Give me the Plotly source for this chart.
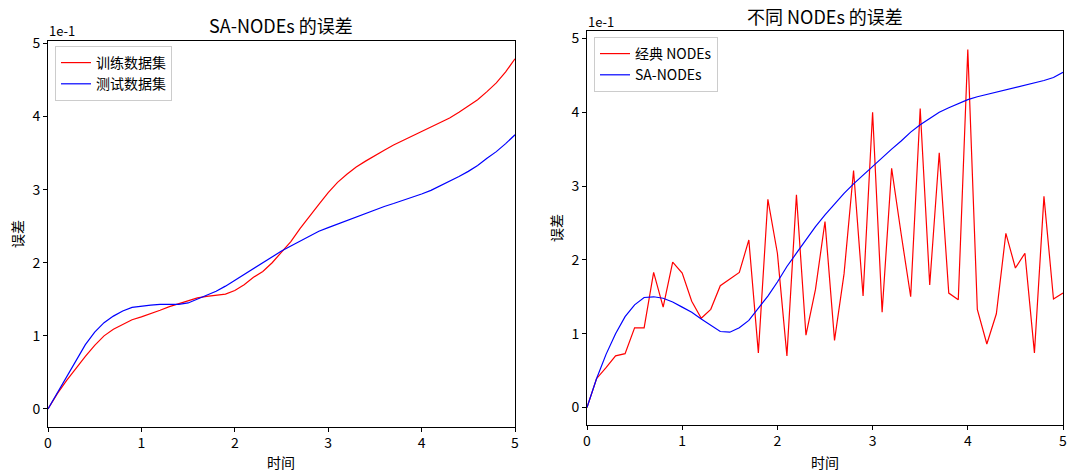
import plotly.graph_objects as go

t = [round(i * 0.1, 1) for i in range(51)]

train_err = [0, 0.21, 0.39, 0.56, 0.72, 0.87, 1.00, 1.09, 1.16, 1.22,
             1.26, 1.30, 1.35, 1.40, 1.44, 1.48, 1.52, 1.54, 1.55, 1.57,
             1.62, 1.70, 1.80, 1.88, 2.00, 2.14, 2.29, 2.47, 2.64, 2.80,
             2.96, 3.10, 3.21, 3.31, 3.39, 3.47, 3.54, 3.61, 3.67, 3.73,
             3.79, 3.85, 3.91, 3.98, 4.06, 4.14, 4.23, 4.34, 4.46, 4.61, 4.79]

test_err = [0, 0.22, 0.44, 0.67, 0.88, 1.05, 1.18, 1.27, 1.34, 1.39,
            1.41, 1.42, 1.43, 1.43, 1.43, 1.45, 1.50, 1.55, 1.61, 1.68,
            1.76, 1.84, 1.93, 2.01, 2.09, 2.16, 2.23, 2.30, 2.37, 2.43,
            2.48, 2.53, 2.58, 2.63, 2.68, 2.72, 2.77, 2.81, 2.85, 2.90,
            2.94, 2.99, 3.05, 3.11, 3.18, 3.25, 3.33, 3.43, 3.52, 3.63, 3.75]

classic_err = [0, 0.39, 0.54, 0.70, 0.73, 1.08, 1.08, 1.83, 1.36, 1.97,
               1.82, 1.44, 1.21, 1.33, 1.65, 1.74, 1.83, 2.27, 0.74, 2.82,
               2.09, 0.70, 2.88, 0.98, 1.60, 2.52, 0.91, 1.81, 3.21, 1.51,
               4.00, 1.29, 3.24, 2.35, 1.50, 4.05, 1.66, 3.45, 1.55, 1.46,
               4.85, 1.33, 0.86, 1.27, 2.36, 1.89, 2.09, 0.74, 2.86, 1.47, 1.55]

sa_err = [0, 0.39, 0.72, 1.00, 1.23, 1.39, 1.49, 1.50, 1.48, 1.43,
          1.36, 1.29, 1.20, 1.11, 1.03, 1.02, 1.08, 1.18, 1.34, 1.51,
          1.70, 1.91, 2.09, 2.27, 2.45, 2.61, 2.76, 2.90, 3.03, 3.15,
          3.27, 3.39, 3.50, 3.61, 3.73, 3.83, 3.92, 4.00, 4.06, 4.12,
          4.17, 4.21, 4.24, 4.28, 4.31, 4.34, 4.37, 4.40, 4.43, 4.47, 4.54]

tick_vals = [0, 1, 2, 3, 4, 5]
tick_text = ["0", "1", "2", "3", "4", "5"]

FONT = "Noto Sans CJK SC"
W, H = 1069, 473

fig = go.Figure()
fig.add_trace(go.Scatter(x=t, y=train_err, mode="lines", name="训练数据集",
                         line=dict(color="red", width=1.2), xaxis="x", yaxis="y", legend="legend"))
fig.add_trace(go.Scatter(x=t, y=test_err, mode="lines", name="测试数据集",
                         line=dict(color="blue", width=1.2), xaxis="x", yaxis="y", legend="legend"))
fig.add_trace(go.Scatter(x=t, y=classic_err, mode="lines", name="经典 NODEs",
                         line=dict(color="red", width=1.2), xaxis="x2", yaxis="y2", legend="legend2"))
fig.add_trace(go.Scatter(x=t, y=sa_err, mode="lines", name="SA-NODEs",
                         line=dict(color="blue", width=1.2), xaxis="x2", yaxis="y2", legend="legend2"))


def px_x(p):
    return p / W


def px_y(p):
    return 1 - p / H


axis_common = dict(showline=True, linecolor="black", linewidth=1, mirror=True,
                   ticks="outside", ticklen=4, tickcolor="black", tickwidth=1,
                   showgrid=False, zeroline=False, tickvals=tick_vals, ticktext=tick_text,
                   automargin=False,
                   tickfont=dict(family=FONT, size=14, color="black"))

legend_common = dict(xanchor="left", yanchor="top",
                     bgcolor="rgba(255,255,255,0.8)", bordercolor="#cccccc", borderwidth=1,
                     font=dict(family=FONT, size=14, color="black"), tracegroupgap=0,
                     itemwidth=30)

fig.update_layout(
    width=W, height=H, margin=dict(l=0, r=0, t=0, b=0),
    plot_bgcolor="white", paper_bgcolor="white",
    font=dict(family=FONT, color="black"),
    xaxis=dict(domain=[px_x(48), px_x(515)], range=[0, 5], anchor="y", **axis_common),
    yaxis=dict(domain=[px_y(426.5), px_y(40.5)], range=[-0.24, 5.04], anchor="x", **axis_common),
    xaxis2=dict(domain=[px_x(587), px_x(1063)], range=[0, 5], anchor="y2", **axis_common),
    yaxis2=dict(domain=[px_y(424.5), px_y(31)], range=[-0.23, 5.10], anchor="x2", **axis_common),
    legend=dict(x=px_x(55), y=px_y(46), **legend_common),
    legend2=dict(x=px_x(594), y=px_y(37), **legend_common),
    showlegend=True,
    annotations=[
        dict(text="SA-NODEs 的误差", x=px_x(281), y=px_y(25), xref="paper", yref="paper",
             showarrow=False, font=dict(size=18, family=FONT), xanchor="center", yanchor="middle"),
        dict(text="不同 NODEs 的误差", x=px_x(825), y=px_y(16), xref="paper", yref="paper",
             showarrow=False, font=dict(size=18, family=FONT), xanchor="center", yanchor="middle"),
        dict(text="1e-1", x=px_x(47), y=px_y(31), xref="paper", yref="paper",
             showarrow=False, font=dict(size=13, family=FONT), xanchor="left", yanchor="middle"),
        dict(text="1e-1", x=px_x(586), y=px_y(22), xref="paper", yref="paper",
             showarrow=False, font=dict(size=13, family=FONT), xanchor="left", yanchor="middle"),
        dict(text="误差", x=px_x(17), y=px_y(234), xref="paper", yref="paper", textangle=-90,
             showarrow=False, font=dict(size=14, family=FONT), xanchor="center", yanchor="middle"),
        dict(text="误差", x=px_x(556), y=px_y(228), xref="paper", yref="paper", textangle=-90,
             showarrow=False, font=dict(size=14, family=FONT), xanchor="center", yanchor="middle"),
        dict(text="时间", x=px_x(281), y=px_y(462), xref="paper", yref="paper",
             showarrow=False, font=dict(size=14, family=FONT), xanchor="center", yanchor="middle"),
        dict(text="时间", x=px_x(825), y=px_y(462), xref="paper", yref="paper",
             showarrow=False, font=dict(size=14, family=FONT), xanchor="center", yanchor="middle"),
    ],
)

fig.write_html("out.html", config={"displayModeBar": False},
               post_script="document.body.style.margin='0px';document.body.style.overflow='hidden';")
